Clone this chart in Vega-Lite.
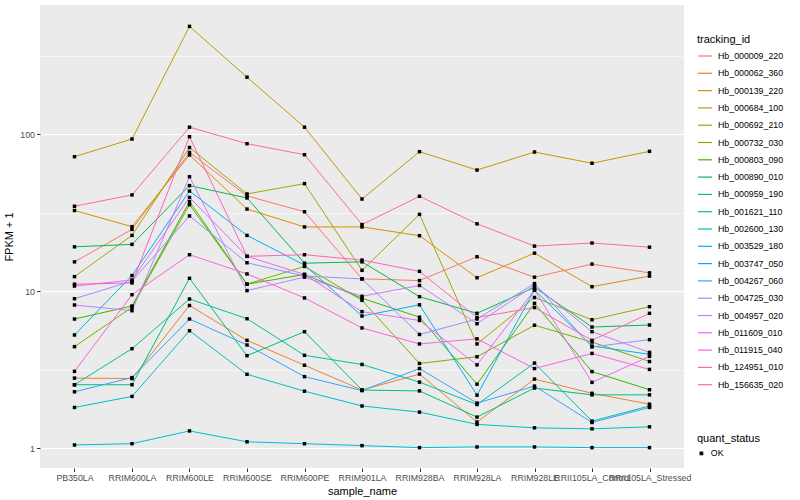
{
  "$schema": "https://vega.github.io/schema/vega-lite/v6.json",
  "width": 644,
  "height": 463,
  "autosize": {"type": "none"},
  "padding": {"left": 40, "top": 5, "right": 116, "bottom": 32},
  "background": "white",
  "data": {"values": [
    {"id":"Hb_000009_220","sample":"PB350LA","fpkm1":15.4,"status":"OK"},
    {"id":"Hb_000009_220","sample":"RRIM600LA","fpkm1":24.8,"status":"OK"},
    {"id":"Hb_000009_220","sample":"RRIM600LE","fpkm1":76.6,"status":"OK"},
    {"id":"Hb_000009_220","sample":"RRIM600SE","fpkm1":40.5,"status":"OK"},
    {"id":"Hb_000009_220","sample":"RRIM600PE","fpkm1":32.1,"status":"OK"},
    {"id":"Hb_000009_220","sample":"RRIM901LA","fpkm1":12.0,"status":"OK"},
    {"id":"Hb_000009_220","sample":"RRIM928BA","fpkm1":11.7,"status":"OK"},
    {"id":"Hb_000009_220","sample":"RRIM928LA","fpkm1":16.6,"status":"OK"},
    {"id":"Hb_000009_220","sample":"RRIM928LE","fpkm1":12.3,"status":"OK"},
    {"id":"Hb_000009_220","sample":"RRII105LA_Control","fpkm1":14.9,"status":"OK"},
    {"id":"Hb_000009_220","sample":"RRII105LA_Stressed","fpkm1":13.1,"status":"OK"},
    {"id":"Hb_000062_360","sample":"PB350LA","fpkm1":2.80,"status":"OK"},
    {"id":"Hb_000062_360","sample":"RRIM600LA","fpkm1":2.78,"status":"OK"},
    {"id":"Hb_000062_360","sample":"RRIM600LE","fpkm1":8.12,"status":"OK"},
    {"id":"Hb_000062_360","sample":"RRIM600SE","fpkm1":4.87,"status":"OK"},
    {"id":"Hb_000062_360","sample":"RRIM600PE","fpkm1":3.38,"status":"OK"},
    {"id":"Hb_000062_360","sample":"RRIM901LA","fpkm1":2.35,"status":"OK"},
    {"id":"Hb_000062_360","sample":"RRIM928BA","fpkm1":2.97,"status":"OK"},
    {"id":"Hb_000062_360","sample":"RRIM928LA","fpkm1":1.47,"status":"OK"},
    {"id":"Hb_000062_360","sample":"RRIM928LE","fpkm1":2.76,"status":"OK"},
    {"id":"Hb_000062_360","sample":"RRII105LA_Control","fpkm1":2.24,"status":"OK"},
    {"id":"Hb_000062_360","sample":"RRII105LA_Stressed","fpkm1":1.91,"status":"OK"},
    {"id":"Hb_000139_220","sample":"PB350LA","fpkm1":32.7,"status":"OK"},
    {"id":"Hb_000139_220","sample":"RRIM600LA","fpkm1":25.8,"status":"OK"},
    {"id":"Hb_000139_220","sample":"RRIM600LE","fpkm1":73.8,"status":"OK"},
    {"id":"Hb_000139_220","sample":"RRIM600SE","fpkm1":33.4,"status":"OK"},
    {"id":"Hb_000139_220","sample":"RRIM600PE","fpkm1":25.7,"status":"OK"},
    {"id":"Hb_000139_220","sample":"RRIM901LA","fpkm1":25.7,"status":"OK"},
    {"id":"Hb_000139_220","sample":"RRIM928BA","fpkm1":22.6,"status":"OK"},
    {"id":"Hb_000139_220","sample":"RRIM928LA","fpkm1":12.2,"status":"OK"},
    {"id":"Hb_000139_220","sample":"RRIM928LE","fpkm1":17.5,"status":"OK"},
    {"id":"Hb_000139_220","sample":"RRII105LA_Control","fpkm1":10.7,"status":"OK"},
    {"id":"Hb_000139_220","sample":"RRII105LA_Stressed","fpkm1":12.5,"status":"OK"},
    {"id":"Hb_000684_100","sample":"PB350LA","fpkm1":72.0,"status":"OK"},
    {"id":"Hb_000684_100","sample":"RRIM600LA","fpkm1":93.3,"status":"OK"},
    {"id":"Hb_000684_100","sample":"RRIM600LE","fpkm1":487,"status":"OK"},
    {"id":"Hb_000684_100","sample":"RRIM600SE","fpkm1":231,"status":"OK"},
    {"id":"Hb_000684_100","sample":"RRIM600PE","fpkm1":111,"status":"OK"},
    {"id":"Hb_000684_100","sample":"RRIM901LA","fpkm1":38.7,"status":"OK"},
    {"id":"Hb_000684_100","sample":"RRIM928BA","fpkm1":77.5,"status":"OK"},
    {"id":"Hb_000684_100","sample":"RRIM928LA","fpkm1":59.2,"status":"OK"},
    {"id":"Hb_000684_100","sample":"RRIM928LE","fpkm1":77.1,"status":"OK"},
    {"id":"Hb_000684_100","sample":"RRII105LA_Control","fpkm1":65.4,"status":"OK"},
    {"id":"Hb_000684_100","sample":"RRII105LA_Stressed","fpkm1":77.9,"status":"OK"},
    {"id":"Hb_000692_210","sample":"PB350LA","fpkm1":12.4,"status":"OK"},
    {"id":"Hb_000692_210","sample":"RRIM600LA","fpkm1":22.7,"status":"OK"},
    {"id":"Hb_000692_210","sample":"RRIM600LE","fpkm1":82.4,"status":"OK"},
    {"id":"Hb_000692_210","sample":"RRIM600SE","fpkm1":41.7,"status":"OK"},
    {"id":"Hb_000692_210","sample":"RRIM600PE","fpkm1":48.5,"status":"OK"},
    {"id":"Hb_000692_210","sample":"RRIM901LA","fpkm1":13.6,"status":"OK"},
    {"id":"Hb_000692_210","sample":"RRIM928BA","fpkm1":30.9,"status":"OK"},
    {"id":"Hb_000692_210","sample":"RRIM928LA","fpkm1":4.62,"status":"OK"},
    {"id":"Hb_000692_210","sample":"RRIM928LE","fpkm1":9.13,"status":"OK"},
    {"id":"Hb_000692_210","sample":"RRII105LA_Control","fpkm1":6.59,"status":"OK"},
    {"id":"Hb_000692_210","sample":"RRII105LA_Stressed","fpkm1":7.98,"status":"OK"},
    {"id":"Hb_000732_030","sample":"PB350LA","fpkm1":4.44,"status":"OK"},
    {"id":"Hb_000732_030","sample":"RRIM600LA","fpkm1":7.91,"status":"OK"},
    {"id":"Hb_000732_030","sample":"RRIM600LE","fpkm1":35.6,"status":"OK"},
    {"id":"Hb_000732_030","sample":"RRIM600SE","fpkm1":11.1,"status":"OK"},
    {"id":"Hb_000732_030","sample":"RRIM600PE","fpkm1":14.4,"status":"OK"},
    {"id":"Hb_000732_030","sample":"RRIM901LA","fpkm1":8.76,"status":"OK"},
    {"id":"Hb_000732_030","sample":"RRIM928BA","fpkm1":3.47,"status":"OK"},
    {"id":"Hb_000732_030","sample":"RRIM928LA","fpkm1":3.83,"status":"OK"},
    {"id":"Hb_000732_030","sample":"RRIM928LE","fpkm1":6.08,"status":"OK"},
    {"id":"Hb_000732_030","sample":"RRII105LA_Control","fpkm1":4.75,"status":"OK"},
    {"id":"Hb_000732_030","sample":"RRII105LA_Stressed","fpkm1":3.57,"status":"OK"},
    {"id":"Hb_000803_090","sample":"PB350LA","fpkm1":6.66,"status":"OK"},
    {"id":"Hb_000803_090","sample":"RRIM600LA","fpkm1":8.06,"status":"OK"},
    {"id":"Hb_000803_090","sample":"RRIM600LE","fpkm1":37.2,"status":"OK"},
    {"id":"Hb_000803_090","sample":"RRIM600SE","fpkm1":11.1,"status":"OK"},
    {"id":"Hb_000803_090","sample":"RRIM600PE","fpkm1":12.8,"status":"OK"},
    {"id":"Hb_000803_090","sample":"RRIM901LA","fpkm1":9.03,"status":"OK"},
    {"id":"Hb_000803_090","sample":"RRIM928BA","fpkm1":6.84,"status":"OK"},
    {"id":"Hb_000803_090","sample":"RRIM928LA","fpkm1":2.56,"status":"OK"},
    {"id":"Hb_000803_090","sample":"RRIM928LE","fpkm1":8.38,"status":"OK"},
    {"id":"Hb_000803_090","sample":"RRII105LA_Control","fpkm1":3.08,"status":"OK"},
    {"id":"Hb_000803_090","sample":"RRII105LA_Stressed","fpkm1":2.36,"status":"OK"},
    {"id":"Hb_000890_010","sample":"PB350LA","fpkm1":19.2,"status":"OK"},
    {"id":"Hb_000890_010","sample":"RRIM600LA","fpkm1":19.9,"status":"OK"},
    {"id":"Hb_000890_010","sample":"RRIM600LE","fpkm1":47.1,"status":"OK"},
    {"id":"Hb_000890_010","sample":"RRIM600SE","fpkm1":39.3,"status":"OK"},
    {"id":"Hb_000890_010","sample":"RRIM600PE","fpkm1":15.1,"status":"OK"},
    {"id":"Hb_000890_010","sample":"RRIM901LA","fpkm1":15.4,"status":"OK"},
    {"id":"Hb_000890_010","sample":"RRIM928BA","fpkm1":9.24,"status":"OK"},
    {"id":"Hb_000890_010","sample":"RRIM928LA","fpkm1":7.24,"status":"OK"},
    {"id":"Hb_000890_010","sample":"RRIM928LE","fpkm1":10.6,"status":"OK"},
    {"id":"Hb_000890_010","sample":"RRII105LA_Control","fpkm1":5.92,"status":"OK"},
    {"id":"Hb_000890_010","sample":"RRII105LA_Stressed","fpkm1":6.10,"status":"OK"},
    {"id":"Hb_000959_190","sample":"PB350LA","fpkm1":2.54,"status":"OK"},
    {"id":"Hb_000959_190","sample":"RRIM600LA","fpkm1":2.54,"status":"OK"},
    {"id":"Hb_000959_190","sample":"RRIM600LE","fpkm1":12.1,"status":"OK"},
    {"id":"Hb_000959_190","sample":"RRIM600SE","fpkm1":3.89,"status":"OK"},
    {"id":"Hb_000959_190","sample":"RRIM600PE","fpkm1":5.53,"status":"OK"},
    {"id":"Hb_000959_190","sample":"RRIM901LA","fpkm1":2.35,"status":"OK"},
    {"id":"Hb_000959_190","sample":"RRIM928BA","fpkm1":2.32,"status":"OK"},
    {"id":"Hb_000959_190","sample":"RRIM928LA","fpkm1":1.58,"status":"OK"},
    {"id":"Hb_000959_190","sample":"RRIM928LE","fpkm1":2.42,"status":"OK"},
    {"id":"Hb_000959_190","sample":"RRII105LA_Control","fpkm1":2.19,"status":"OK"},
    {"id":"Hb_000959_190","sample":"RRII105LA_Stressed","fpkm1":2.19,"status":"OK"},
    {"id":"Hb_001621_110","sample":"PB350LA","fpkm1":2.54,"status":"OK"},
    {"id":"Hb_001621_110","sample":"RRIM600LA","fpkm1":4.31,"status":"OK"},
    {"id":"Hb_001621_110","sample":"RRIM600LE","fpkm1":8.93,"status":"OK"},
    {"id":"Hb_001621_110","sample":"RRIM600SE","fpkm1":6.69,"status":"OK"},
    {"id":"Hb_001621_110","sample":"RRIM600PE","fpkm1":3.91,"status":"OK"},
    {"id":"Hb_001621_110","sample":"RRIM901LA","fpkm1":3.42,"status":"OK"},
    {"id":"Hb_001621_110","sample":"RRIM928BA","fpkm1":2.64,"status":"OK"},
    {"id":"Hb_001621_110","sample":"RRIM928LA","fpkm1":1.90,"status":"OK"},
    {"id":"Hb_001621_110","sample":"RRIM928LE","fpkm1":3.49,"status":"OK"},
    {"id":"Hb_001621_110","sample":"RRII105LA_Control","fpkm1":1.49,"status":"OK"},
    {"id":"Hb_001621_110","sample":"RRII105LA_Stressed","fpkm1":1.86,"status":"OK"},
    {"id":"Hb_002600_130","sample":"PB350LA","fpkm1":1.82,"status":"OK"},
    {"id":"Hb_002600_130","sample":"RRIM600LA","fpkm1":2.14,"status":"OK"},
    {"id":"Hb_002600_130","sample":"RRIM600LE","fpkm1":5.61,"status":"OK"},
    {"id":"Hb_002600_130","sample":"RRIM600SE","fpkm1":2.96,"status":"OK"},
    {"id":"Hb_002600_130","sample":"RRIM600PE","fpkm1":2.31,"status":"OK"},
    {"id":"Hb_002600_130","sample":"RRIM901LA","fpkm1":1.86,"status":"OK"},
    {"id":"Hb_002600_130","sample":"RRIM928BA","fpkm1":1.70,"status":"OK"},
    {"id":"Hb_002600_130","sample":"RRIM928LA","fpkm1":1.42,"status":"OK"},
    {"id":"Hb_002600_130","sample":"RRIM928LE","fpkm1":1.35,"status":"OK"},
    {"id":"Hb_002600_130","sample":"RRII105LA_Control","fpkm1":1.33,"status":"OK"},
    {"id":"Hb_002600_130","sample":"RRII105LA_Stressed","fpkm1":1.37,"status":"OK"},
    {"id":"Hb_003529_180","sample":"PB350LA","fpkm1":1.05,"status":"OK"},
    {"id":"Hb_003529_180","sample":"RRIM600LA","fpkm1":1.07,"status":"OK"},
    {"id":"Hb_003529_180","sample":"RRIM600LE","fpkm1":1.29,"status":"OK"},
    {"id":"Hb_003529_180","sample":"RRIM600SE","fpkm1":1.10,"status":"OK"},
    {"id":"Hb_003529_180","sample":"RRIM600PE","fpkm1":1.07,"status":"OK"},
    {"id":"Hb_003529_180","sample":"RRIM901LA","fpkm1":1.04,"status":"OK"},
    {"id":"Hb_003529_180","sample":"RRIM928BA","fpkm1":1.01,"status":"OK"},
    {"id":"Hb_003529_180","sample":"RRIM928LA","fpkm1":1.02,"status":"OK"},
    {"id":"Hb_003529_180","sample":"RRIM928LE","fpkm1":1.02,"status":"OK"},
    {"id":"Hb_003529_180","sample":"RRII105LA_Control","fpkm1":1.01,"status":"OK"},
    {"id":"Hb_003529_180","sample":"RRII105LA_Stressed","fpkm1":1.01,"status":"OK"},
    {"id":"Hb_003747_050","sample":"PB350LA","fpkm1":5.27,"status":"OK"},
    {"id":"Hb_003747_050","sample":"RRIM600LA","fpkm1":12.6,"status":"OK"},
    {"id":"Hb_003747_050","sample":"RRIM600LE","fpkm1":43.5,"status":"OK"},
    {"id":"Hb_003747_050","sample":"RRIM600SE","fpkm1":22.7,"status":"OK"},
    {"id":"Hb_003747_050","sample":"RRIM600PE","fpkm1":14.7,"status":"OK"},
    {"id":"Hb_003747_050","sample":"RRIM901LA","fpkm1":6.96,"status":"OK"},
    {"id":"Hb_003747_050","sample":"RRIM928BA","fpkm1":8.20,"status":"OK"},
    {"id":"Hb_003747_050","sample":"RRIM928LA","fpkm1":2.18,"status":"OK"},
    {"id":"Hb_003747_050","sample":"RRIM928LE","fpkm1":10.2,"status":"OK"},
    {"id":"Hb_003747_050","sample":"RRII105LA_Control","fpkm1":4.48,"status":"OK"},
    {"id":"Hb_003747_050","sample":"RRII105LA_Stressed","fpkm1":3.97,"status":"OK"},
    {"id":"Hb_004267_060","sample":"PB350LA","fpkm1":2.29,"status":"OK"},
    {"id":"Hb_004267_060","sample":"RRIM600LA","fpkm1":2.82,"status":"OK"},
    {"id":"Hb_004267_060","sample":"RRIM600LE","fpkm1":6.66,"status":"OK"},
    {"id":"Hb_004267_060","sample":"RRIM600SE","fpkm1":4.55,"status":"OK"},
    {"id":"Hb_004267_060","sample":"RRIM600PE","fpkm1":2.86,"status":"OK"},
    {"id":"Hb_004267_060","sample":"RRIM901LA","fpkm1":2.33,"status":"OK"},
    {"id":"Hb_004267_060","sample":"RRIM928BA","fpkm1":3.22,"status":"OK"},
    {"id":"Hb_004267_060","sample":"RRIM928LA","fpkm1":1.94,"status":"OK"},
    {"id":"Hb_004267_060","sample":"RRIM928LE","fpkm1":2.49,"status":"OK"},
    {"id":"Hb_004267_060","sample":"RRII105LA_Control","fpkm1":1.46,"status":"OK"},
    {"id":"Hb_004267_060","sample":"RRII105LA_Stressed","fpkm1":1.82,"status":"OK"},
    {"id":"Hb_004725_030","sample":"PB350LA","fpkm1":8.97,"status":"OK"},
    {"id":"Hb_004725_030","sample":"RRIM600LA","fpkm1":11.6,"status":"OK"},
    {"id":"Hb_004725_030","sample":"RRIM600LE","fpkm1":30.2,"status":"OK"},
    {"id":"Hb_004725_030","sample":"RRIM600SE","fpkm1":15.2,"status":"OK"},
    {"id":"Hb_004725_030","sample":"RRIM600PE","fpkm1":12.5,"status":"OK"},
    {"id":"Hb_004725_030","sample":"RRIM901LA","fpkm1":12.0,"status":"OK"},
    {"id":"Hb_004725_030","sample":"RRIM928BA","fpkm1":5.31,"status":"OK"},
    {"id":"Hb_004725_030","sample":"RRIM928LA","fpkm1":6.66,"status":"OK"},
    {"id":"Hb_004725_030","sample":"RRIM928LE","fpkm1":11.2,"status":"OK"},
    {"id":"Hb_004725_030","sample":"RRII105LA_Control","fpkm1":4.42,"status":"OK"},
    {"id":"Hb_004725_030","sample":"RRII105LA_Stressed","fpkm1":4.92,"status":"OK"},
    {"id":"Hb_004957_020","sample":"PB350LA","fpkm1":8.18,"status":"OK"},
    {"id":"Hb_004957_020","sample":"RRIM600LA","fpkm1":7.52,"status":"OK"},
    {"id":"Hb_004957_020","sample":"RRIM600LE","fpkm1":53.7,"status":"OK"},
    {"id":"Hb_004957_020","sample":"RRIM600SE","fpkm1":10.1,"status":"OK"},
    {"id":"Hb_004957_020","sample":"RRIM600PE","fpkm1":12.3,"status":"OK"},
    {"id":"Hb_004957_020","sample":"RRIM901LA","fpkm1":9.29,"status":"OK"},
    {"id":"Hb_004957_020","sample":"RRIM928BA","fpkm1":10.9,"status":"OK"},
    {"id":"Hb_004957_020","sample":"RRIM928LA","fpkm1":6.22,"status":"OK"},
    {"id":"Hb_004957_020","sample":"RRIM928LE","fpkm1":10.9,"status":"OK"},
    {"id":"Hb_004957_020","sample":"RRII105LA_Control","fpkm1":5.53,"status":"OK"},
    {"id":"Hb_004957_020","sample":"RRII105LA_Stressed","fpkm1":4.08,"status":"OK"},
    {"id":"Hb_011609_010","sample":"PB350LA","fpkm1":10.8,"status":"OK"},
    {"id":"Hb_011609_010","sample":"RRIM600LA","fpkm1":11.8,"status":"OK"},
    {"id":"Hb_011609_010","sample":"RRIM600LE","fpkm1":39.6,"status":"OK"},
    {"id":"Hb_011609_010","sample":"RRIM600SE","fpkm1":16.7,"status":"OK"},
    {"id":"Hb_011609_010","sample":"RRIM600PE","fpkm1":12.8,"status":"OK"},
    {"id":"Hb_011609_010","sample":"RRIM901LA","fpkm1":7.42,"status":"OK"},
    {"id":"Hb_011609_010","sample":"RRIM928BA","fpkm1":6.52,"status":"OK"},
    {"id":"Hb_011609_010","sample":"RRIM928LA","fpkm1":3.40,"status":"OK"},
    {"id":"Hb_011609_010","sample":"RRIM928LE","fpkm1":10.2,"status":"OK"},
    {"id":"Hb_011609_010","sample":"RRII105LA_Control","fpkm1":2.63,"status":"OK"},
    {"id":"Hb_011609_010","sample":"RRII105LA_Stressed","fpkm1":3.85,"status":"OK"},
    {"id":"Hb_011915_040","sample":"PB350LA","fpkm1":3.09,"status":"OK"},
    {"id":"Hb_011915_040","sample":"RRIM600LA","fpkm1":9.51,"status":"OK"},
    {"id":"Hb_011915_040","sample":"RRIM600LE","fpkm1":17.1,"status":"OK"},
    {"id":"Hb_011915_040","sample":"RRIM600SE","fpkm1":12.9,"status":"OK"},
    {"id":"Hb_011915_040","sample":"RRIM600PE","fpkm1":9.07,"status":"OK"},
    {"id":"Hb_011915_040","sample":"RRIM901LA","fpkm1":5.84,"status":"OK"},
    {"id":"Hb_011915_040","sample":"RRIM928BA","fpkm1":4.62,"status":"OK"},
    {"id":"Hb_011915_040","sample":"RRIM928LA","fpkm1":4.98,"status":"OK"},
    {"id":"Hb_011915_040","sample":"RRIM928LE","fpkm1":3.22,"status":"OK"},
    {"id":"Hb_011915_040","sample":"RRII105LA_Control","fpkm1":4.02,"status":"OK"},
    {"id":"Hb_011915_040","sample":"RRII105LA_Stressed","fpkm1":3.18,"status":"OK"},
    {"id":"Hb_124951_010","sample":"PB350LA","fpkm1":11.1,"status":"OK"},
    {"id":"Hb_124951_010","sample":"RRIM600LA","fpkm1":11.3,"status":"OK"},
    {"id":"Hb_124951_010","sample":"RRIM600LE","fpkm1":96.5,"status":"OK"},
    {"id":"Hb_124951_010","sample":"RRIM600SE","fpkm1":16.7,"status":"OK"},
    {"id":"Hb_124951_010","sample":"RRIM600PE","fpkm1":17.1,"status":"OK"},
    {"id":"Hb_124951_010","sample":"RRIM901LA","fpkm1":15.8,"status":"OK"},
    {"id":"Hb_124951_010","sample":"RRIM928BA","fpkm1":13.4,"status":"OK"},
    {"id":"Hb_124951_010","sample":"RRIM928LA","fpkm1":6.81,"status":"OK"},
    {"id":"Hb_124951_010","sample":"RRIM928LE","fpkm1":7.88,"status":"OK"},
    {"id":"Hb_124951_010","sample":"RRII105LA_Control","fpkm1":4.87,"status":"OK"},
    {"id":"Hb_124951_010","sample":"RRII105LA_Stressed","fpkm1":7.24,"status":"OK"},
    {"id":"Hb_156635_020","sample":"PB350LA","fpkm1":34.8,"status":"OK"},
    {"id":"Hb_156635_020","sample":"RRIM600LA","fpkm1":41.1,"status":"OK"},
    {"id":"Hb_156635_020","sample":"RRIM600LE","fpkm1":111,"status":"OK"},
    {"id":"Hb_156635_020","sample":"RRIM600SE","fpkm1":87.1,"status":"OK"},
    {"id":"Hb_156635_020","sample":"RRIM600PE","fpkm1":74.1,"status":"OK"},
    {"id":"Hb_156635_020","sample":"RRIM901LA","fpkm1":26.6,"status":"OK"},
    {"id":"Hb_156635_020","sample":"RRIM928BA","fpkm1":40.3,"status":"OK"},
    {"id":"Hb_156635_020","sample":"RRIM928LA","fpkm1":26.9,"status":"OK"},
    {"id":"Hb_156635_020","sample":"RRIM928LE","fpkm1":19.4,"status":"OK"},
    {"id":"Hb_156635_020","sample":"RRII105LA_Control","fpkm1":20.3,"status":"OK"},
    {"id":"Hb_156635_020","sample":"RRII105LA_Stressed","fpkm1":19.1,"status":"OK"}
  ]},
  "encoding": {
    "x": {
      "field": "sample", "type": "ordinal",
      "sort": ["PB350LA","RRIM600LA","RRIM600LE","RRIM600SE","RRIM600PE","RRIM901LA","RRIM928BA","RRIM928LA","RRIM928LE","RRII105LA_Control","RRII105LA_Stressed"],
      "scale": {"type": "point", "padding": 0.6},
      "axis": {"title": "sample_name", "labelAngle": 0, "labelOverlap": false, "labelBound": false, "labelLimit": 0, "tickSize": 3.5, "labelPadding": 2, "titlePadding": 3}
    },
    "y": {
      "field": "fpkm1", "type": "quantitative",
      "scale": {"type": "log", "domain": [0.749, 666], "nice": false, "zero": false},
      "axis": {
        "title": "FPKM + 1",
        "values": [1, 3.1623, 10, 31.623, 100, 316.23],
        "labelExpr": "(datum.value == 1 || datum.value == 10 || datum.value == 100) ? format(datum.value, 'd') : ''",
        "tickColor": {"condition": {"test": "datum.value == 1 || datum.value == 10 || datum.value == 100", "value": "#333333"}, "value": "transparent"},
        "gridWidth": {"condition": {"test": "datum.value == 1 || datum.value == 10 || datum.value == 100", "value": 1.1}, "value": 0.55},
        "tickSize": 3.5, "labelPadding": 2, "titlePadding": 5
      }
    }
  },
  "layer": [
    {
      "mark": {"type": "line", "strokeWidth": 1},
      "encoding": {
        "color": {
          "field": "id", "type": "nominal",
          "scale": {"range": ["#F8766D","#EA8331","#D89000","#C09B00","#A3A500","#7CAE00","#39B600","#00BB4E","#00BF7D","#00C1A3","#00BFC4","#00BAE0","#00B0F6","#35A2FF","#9590FF","#C77CFF","#E76BF3","#FA62DB","#FF62BC","#FF6C91"]},
          "legend": {
            "title": "tracking_id", "orient": "none", "legendX": 657, "legendY": 29,
            "symbolType": "stroke", "symbolSize": 196, "symbolStrokeWidth": 1.2,
            "labelFontSize": 8.8, "labelColor": "black", "labelOffset": 5,
            "titleFontSize": 11, "titleFontWeight": "normal", "titleColor": "black", "titlePadding": 3,
            "rowPadding": 4.3, "padding": 0
          }
        }
      }
    },
    {
      "mark": {"type": "point", "filled": true, "color": "black", "opacity": 1, "size": 12},
      "encoding": {
        "shape": {
          "field": "status", "type": "nominal",
          "scale": {"range": ["square"]},
          "legend": {
            "title": "quant_status", "orient": "none", "legendX": 657, "legendY": 428,
            "labelFontSize": 8.8, "labelColor": "black", "labelOffset": 5, "symbolSize": 14,
            "titleFontSize": 11, "titleFontWeight": "normal", "titleColor": "black", "titlePadding": 5,
            "padding": 0, "symbolFillColor": "black", "symbolStrokeColor": "black"
          }
        }
      }
    }
  ],
  "config": {
    "font": "Liberation Sans",
    "view": {"fill": "#EBEBEB", "stroke": null},
    "axis": {
      "domain": false,
      "gridColor": "white",
      "gridWidth": 1.1,
      "tickColor": "#333333",
      "labelColor": "#4D4D4D",
      "labelFontSize": 8.8,
      "titleFontSize": 11,
      "titleFontWeight": "normal",
      "titleColor": "black"
    }
  }
}
